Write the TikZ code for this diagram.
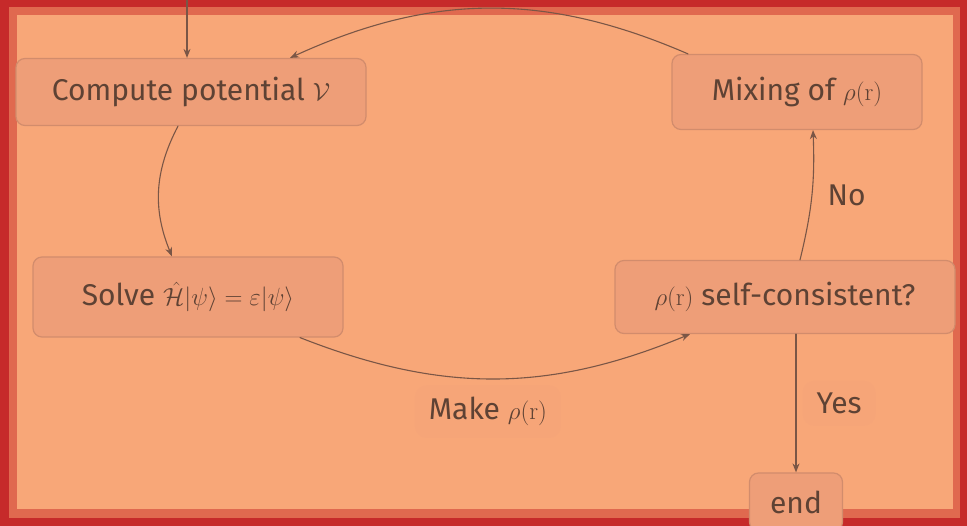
\documentclass[tikz,border=0pt]{standalone}
\usepackage{amsmath,amssymb}
\usepackage[no-math]{fontspec}
\setmainfont{Fira Sans}
\usetikzlibrary{arrows.meta}
\definecolor{cred}{HTML}{c62a2a}
\definecolor{cmid}{HTML}{e0694f}
\definecolor{corange}{HTML}{f8a778}
\definecolor{tbox}{HTML}{ee9e78}
\definecolor{cbox}{HTML}{d28c6c}
\definecolor{ctext}{HTML}{5e4234}
\definecolor{carrow}{HTML}{7a5646}

\tikzset{
  stepbox/.style={draw=cbox, fill=tbox, rounded corners=9pt, line width=1.2pt,
    text=ctext, inner sep=0pt},
  lbl/.style={text=ctext, fill=tbox, fill opacity=0.18, text opacity=1,
    rounded corners=12pt, inner xsep=14pt, inner ysep=12pt},
  flow/.style={draw=carrow, line width=1.1pt, -{Stealth[length=9pt,width=7pt]}}
}

\begin{document}
\begin{tikzpicture}[x=1pt, y=-1pt, font=\fontsize{30}{36}\selectfont, line cap=round]
  \useasboundingbox (0,0) rectangle (967,526);
  % frame
  \fill[cred] (0,0) rectangle (967,526);
  \fill[cmid] (9,7) rectangle (960,518);
  \fill[corange] (17,15) rectangle (953,509);
  % steps
  \node[stepbox, minimum width=350pt, minimum height=67pt] (pot) at (191,92)
    {Compute potential $\mathcal{V}$};
  \node[stepbox, minimum width=310pt, minimum height=80pt] (solve) at (188,297)
    {Solve $\hat{\mathcal{H}}|\psi\rangle=\varepsilon|\psi\rangle$};
  \node[stepbox, minimum width=250pt, minimum height=75pt] (mix) at (797,92)
    {Mixing of $\rho(\mathrm{r})$};
  \node[stepbox, minimum width=340pt, minimum height=73pt] (check) at (785,297)
    {$\rho(\mathrm{r})$ self-consistent?};
  \node[stepbox, minimum width=93pt, minimum height=58pt] (done) at (796,502)
    {end};
  % entry
  \coordinate (start) at (187,0);
  \draw[flow] (start) -- (pot.north -| start);
  % loop
  \draw[flow] (pot.south -| 178,0) to[bend right=25] (solve.north -| 172,0);
  \draw[flow] (solve.south -| 300,0) to[bend right=22]
    node[lbl, below=6pt, pos=0.48] (make) {Make $\rho(\mathrm{r})$}
    (check.south -| 690,0);
  \draw[flow] (check.north -| 800,0) to[bend right=8]
    node[text=ctext, right=12pt, pos=0.5] (no) {No} (mix.south -| 813,0);
  \draw[flow] (mix.north -| 688,0) to[bend right=24] (pot.north -| 290,0);
  \draw[flow] (check.south -| done) --
    node[lbl, right=6pt, pos=0.5] (yes) {Yes} (done.north);
\end{tikzpicture}
\end{document}
